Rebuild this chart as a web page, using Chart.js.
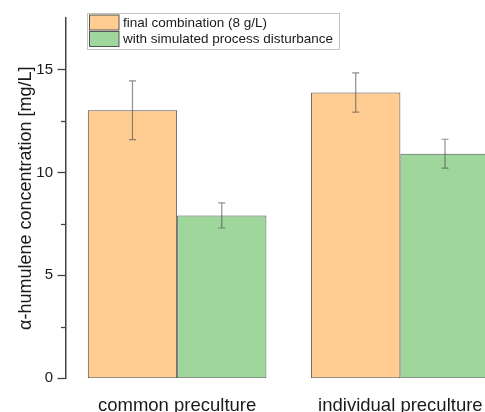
<!DOCTYPE html>
<html>
<head>
<meta charset="utf-8">
<script src="https://cdn.jsdelivr.net/npm/chart.js@4"></script>
<style>
  html, body { margin: 0; padding: 0; overflow: hidden; background: #fff; }
  #wrap { width: 512px; height: 412px; position: relative; }
</style>
</head>
<body>
<div id="wrap"><canvas id="c"></canvas></div>
<script>
const categories = ['common preculture', 'individual preculture'];
const seriesLabels = ['final combination (8 g/L)', 'with simulated process disturbance'];
const finalValues = [13.02, 13.88];
const finalErrors = [1.43, 0.95];
const disturbValues = [7.91, 10.91];
const disturbErrors = [0.61, 0.70];
const yTicks = [0, 5, 10, 15];
const yMinorTicks = [2.5, 7.5, 12.5];

const errorBarPlugin = {
  id: 'errorBars',
  afterDatasetsDraw(chart) {
    const ctx = chart.ctx;
    const y = chart.scales.y;
    ctx.save();
    ctx.strokeStyle = 'rgba(70,70,70,0.6)';
    ctx.lineWidth = 1.2;
    chart.data.datasets.forEach((ds, i) => {
      const meta = chart.getDatasetMeta(i);
      meta.data.forEach((bar, j) => {
        const v = ds.data[j], e = ds.errors[j];
        const x = bar.x;
        const yt = y.getPixelForValue(v + e);
        const yb = y.getPixelForValue(v - e);
        ctx.beginPath();
        ctx.moveTo(x, yt); ctx.lineTo(x, yb);
        ctx.moveTo(x - 3.5, yt); ctx.lineTo(x + 3.5, yt);
        ctx.moveTo(x - 3.5, yb); ctx.lineTo(x + 3.5, yb);
        ctx.stroke();
      });
    });
    ctx.restore();
  }
};

const tickPlugin = {
  id: 'yTickMarks',
  afterDraw(chart) {
    const ctx = chart.ctx;
    const y = chart.scales.y;
    const ax = chart.chartArea.left;
    ctx.save();
    ctx.strokeStyle = '#444';
    ctx.lineWidth = 1.3;
    yTicks.forEach(t => {
      const p = Math.round(y.getPixelForValue(t)) + 0.5;
      ctx.beginPath(); ctx.moveTo(ax - 8, p); ctx.lineTo(ax, p); ctx.stroke();
    });
    yMinorTicks.forEach(t => {
      const p = Math.round(y.getPixelForValue(t)) + 0.5;
      ctx.beginPath(); ctx.moveTo(ax - 4.5, p); ctx.lineTo(ax, p); ctx.stroke();
    });
    ctx.restore();
  }
};

const legendPlugin = {
  id: 'customLegend',
  afterDraw(chart) {
    const ctx = chart.ctx;
    ctx.save();
    const bx = 87.5, by = 13.5, bw = 252, bh = 36;
    ctx.fillStyle = '#fff';
    ctx.fillRect(bx, by, bw, bh);
    ctx.strokeStyle = '#c4c4c4';
    ctx.lineWidth = 1;
    ctx.strokeRect(bx, by, bw, bh);
    ctx.font = '13.5px "Liberation Sans", Arial, sans-serif';
    ctx.textBaseline = 'middle';
    chart.data.datasets.forEach((ds, i) => {
      const sy = 15 + i * 16.5;
      ctx.fillStyle = ds.backgroundColor;
      ctx.fillRect(89.5, sy, 29.5, 15);
      ctx.strokeStyle = '#555';
      ctx.strokeRect(89.5, sy, 29.5, 15);
      ctx.fillStyle = '#1a1a1a';
      ctx.fillText(ds.label, 123, sy + 8);
    });
    ctx.restore();
  }
};

new Chart(document.getElementById('c'), {
  type: 'bar',
  data: {
    labels: categories,
    datasets: [
      { label: seriesLabels[0], data: finalValues, errors: finalErrors,
        backgroundColor: '#FFCC92', borderColor: '#555', borderWidth: 1, borderSkipped: false },
      { label: seriesLabels[1], data: disturbValues, errors: disturbErrors,
        backgroundColor: '#9ED69B', borderColor: '#555', borderWidth: 1, borderSkipped: false }
    ]
  },
  options: {
    responsive: true,
    maintainAspectRatio: false,
    animation: false,
    layout: { padding: { top: 18, left: 0, right: 0, bottom: 0 } },
    plugins: { legend: { display: false }, tooltip: { enabled: false } },
    datasets: { bar: { categoryPercentage: 0.8, barPercentage: 1.0 } },
    scales: {
      x: {
        afterFit(scale) { scale.height = 33.7; scale.paddingLeft = 0; scale.paddingRight = 0; },
        grid: { display: false, drawTicks: false },
        border: { display: false },
        ticks: { color: '#1a1a1a', padding: 18.6, font: { family: '"Liberation Sans", Arial, sans-serif', size: 18.5, lineHeight: 1 } }
      },
      y: {
        min: 0, max: 17.5,
        afterFit(scale) { scale.width = 65.5; scale.paddingTop = 0; scale.paddingBottom = 0; },
        grid: { display: false, drawTicks: false },
        border: { display: true, color: '#444', width: 1.5 },
        ticks: {
          stepSize: 2.5, padding: 12.5, color: '#1a1a1a',
          font: { family: '"Liberation Sans", Arial, sans-serif', size: 15 },
          callback: v => (v % 5 === 0 ? v : '')
        },
        title: {
          display: true, text: 'α-humulene concentration [mg/L]', color: '#1a1a1a',
          padding: { top: 15.2, bottom: 0 },
          font: { family: '"Liberation Sans", Arial, sans-serif', size: 18, lineHeight: 1.2 }
        }
      }
    }
  },
  plugins: [errorBarPlugin, tickPlugin, legendPlugin]
});
</script>
</body>
</html>
